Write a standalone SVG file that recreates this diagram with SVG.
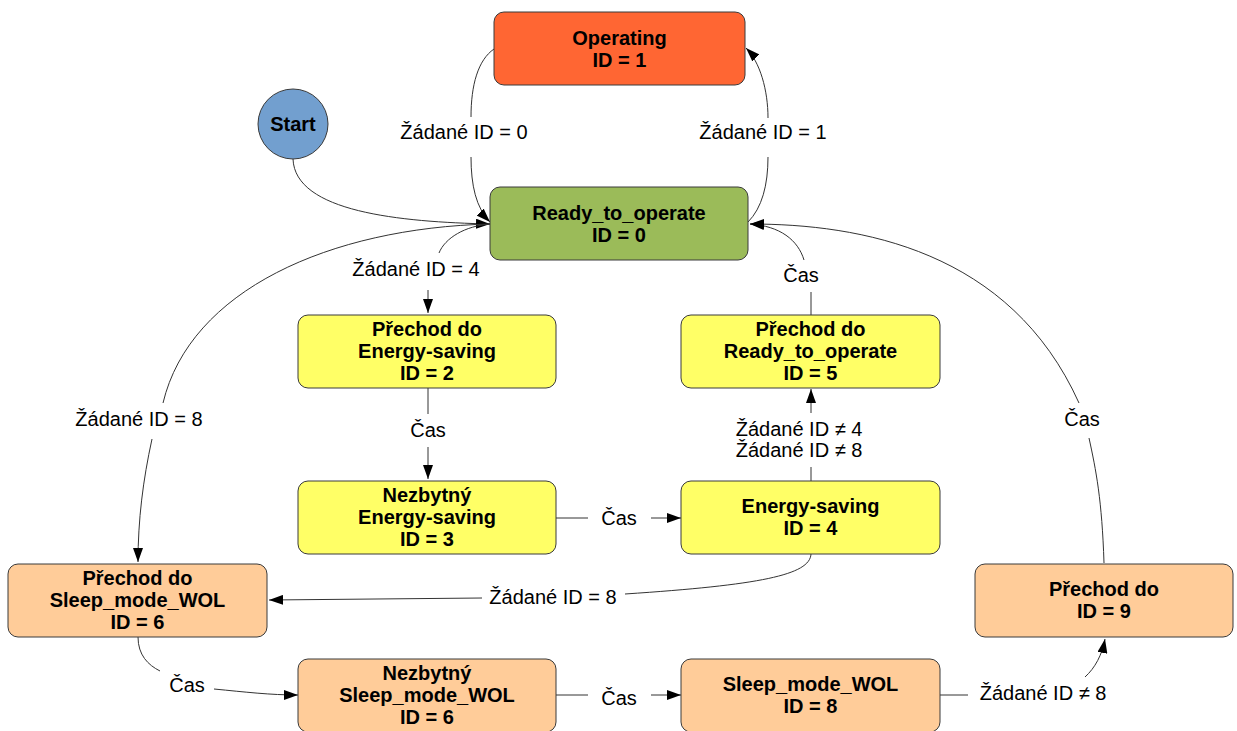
<svg xmlns="http://www.w3.org/2000/svg" width="1237" height="731" viewBox="0 0 1237 731">
  <style>
    .node rect, .node circle { stroke: #3a3a3a; stroke-width: 1; }
    .node text { font-family: "Liberation Sans", Arial, sans-serif; font-size: 20px; font-weight: bold; fill: #000; text-anchor: middle; }
    .edges path { fill: none; stroke: #333; stroke-width: 1; }
    .lbl { font-family: "Liberation Sans", Arial, sans-serif; font-size: 20px; fill: #000; text-anchor: middle; }
    .red { fill: #ff6633; }
    .green { fill: #9bbb59; }
    .yellow { fill: #ffff66; }
    .orange { fill: #ffcc99; }
    .blue { fill: #729fcf; }
  </style>
  <defs>
    <marker id="arrow" viewBox="0 0 14 10" refX="14" refY="5" markerWidth="14" markerHeight="10" markerUnits="userSpaceOnUse" orient="auto">
      <path d="M0,0 L14,5 L0,10 Z" fill="#000"/>
    </marker>
  </defs>
  <rect width="1237" height="731" fill="#fff"/>

  <!-- transitions -->
  <g class="edges">
    <!-- Operating -> Ready_to_operate -->
    <path d="M494,49 C478,60 471,85 471,117"/>
    <path d="M471,157 C471,185 476,208 490,222" marker-end="url(#arrow)"/>
    <!-- Ready_to_operate -> Operating -->
    <path d="M748,222 C762,208 768,185 768,157"/>
    <path d="M768,118 C768,90 760,62 746,48" marker-end="url(#arrow)"/>
    <!-- Start -> Ready_to_operate -->
    <path d="M293,159 C295,212 400,222 490,224" marker-end="url(#arrow)"/>
    <!-- Ready_to_operate -> Prechod Energy-saving -->
    <path d="M490,224 C465,226 445,238 439,253"/>
    <path d="M428,290 L428,313" marker-end="url(#arrow)"/>
    <!-- Ready_to_operate -> Prechod Sleep_mode_WOL -->
    <path d="M490,224 C330,228 190,290 163,403"/>
    <path d="M152,439 C143,480 138,520 138,562" marker-end="url(#arrow)"/>
    <!-- ID 2 -> ID 3 -->
    <path d="M428,388 L428,414"/>
    <path d="M428,447 L428,479" marker-end="url(#arrow)"/>
    <!-- ID 3 -> ID 4 -->
    <path d="M556,518 L588,518"/>
    <path d="M651,518 L681,518" marker-end="url(#arrow)"/>
    <!-- ID 4 -> ID 5 -->
    <path d="M811,481 L811,467"/>
    <path d="M811,413 L811,389" marker-end="url(#arrow)"/>
    <!-- ID 5 -> Ready_to_operate -->
    <path d="M811,315 L811,292"/>
    <path d="M804,260 C798,240 780,226 750,224" marker-end="url(#arrow)"/>
    <!-- ID 9 -> Ready_to_operate -->
    <path d="M1104,563 C1102,500 1096,470 1089,438"/>
    <path d="M1079,403 C1010,250 860,224 750,224" marker-end="url(#arrow)"/>
    <!-- ID 4 -> Prechod Sleep_mode_WOL -->
    <path d="M811,554 C810,575 760,585 625,594"/>
    <path d="M482,598 L269,600" marker-end="url(#arrow)"/>
    <!-- Prechod Sleep_mode_WOL -> Nezbytny Sleep_mode_WOL -->
    <path d="M138,637 C138,655 148,665 160,671"/>
    <path d="M214,689 C245,692 270,695 298,695" marker-end="url(#arrow)"/>
    <!-- Nezbytny Sleep_mode_WOL -> ID 8 -->
    <path d="M556,695 L588,695"/>
    <path d="M651,695 L681,695" marker-end="url(#arrow)"/>
    <!-- ID 8 -> Prechod ID 9 -->
    <path d="M940,695 L968,695"/>
    <path d="M1085,677 C1095,668 1102,655 1105,639" marker-end="url(#arrow)"/>
  </g>

  <!-- transition labels -->
  <g id="labels">
    <text class="lbl" x="464" y="139">Žádané ID = 0</text>
    <text class="lbl" x="763" y="139">Žádané ID = 1</text>
    <text class="lbl" x="416" y="276">Žádané ID = 4</text>
    <text class="lbl" x="139" y="426">Žádané ID = 8</text>
    <text class="lbl" x="428" y="437">Čas</text>
    <text class="lbl" x="619" y="525">Čas</text>
    <text class="lbl" x="799" y="436">Žádané ID ≠ 4</text>
    <text class="lbl" x="799" y="457">Žádané ID ≠ 8</text>
    <text class="lbl" x="801" y="282">Čas</text>
    <text class="lbl" x="1082" y="426">Čas</text>
    <text class="lbl" x="553" y="604">Žádané ID = 8</text>
    <text class="lbl" x="187" y="692">Čas</text>
    <text class="lbl" x="619" y="705">Čas</text>
    <text class="lbl" x="1043" y="700">Žádané ID ≠ 8</text>
  </g>

  <!-- states -->
  <g id="start" class="node">
    <circle class="blue" cx="293" cy="124" r="35"/>
    <text x="293" y="131">Start</text>
  </g>
  <g id="operating" class="node">
    <rect class="red" x="494" y="12" width="251" height="73" rx="10"/>
    <text x="619.5" y="45">Operating</text>
    <text x="619.5" y="67">ID = 1</text>
  </g>
  <g id="ready" class="node">
    <rect class="green" x="490" y="187" width="258" height="73" rx="10"/>
    <text x="619" y="220">Ready_to_operate</text>
    <text x="619" y="242">ID = 0</text>
  </g>
  <g id="id2" class="node">
    <rect class="yellow" x="298" y="315" width="258" height="73" rx="10"/>
    <text x="427" y="336">Přechod do</text>
    <text x="427" y="358">Energy-saving</text>
    <text x="427" y="380">ID = 2</text>
  </g>
  <g id="id3" class="node">
    <rect class="yellow" x="298" y="481" width="258" height="73" rx="10"/>
    <text x="427" y="502">Nezbytný</text>
    <text x="427" y="524">Energy-saving</text>
    <text x="427" y="546">ID = 3</text>
  </g>
  <g id="id5" class="node">
    <rect class="yellow" x="681" y="315" width="259" height="73" rx="10"/>
    <text x="810.5" y="336">Přechod do</text>
    <text x="810.5" y="358">Ready_to_operate</text>
    <text x="810.5" y="380">ID = 5</text>
  </g>
  <g id="id4" class="node">
    <rect class="yellow" x="681" y="481" width="259" height="73" rx="10"/>
    <text x="810.5" y="513">Energy-saving</text>
    <text x="810.5" y="535">ID = 4</text>
  </g>
  <g id="id6a" class="node">
    <rect class="orange" x="8" y="564" width="259" height="73" rx="10"/>
    <text x="137.5" y="585">Přechod do</text>
    <text x="137.5" y="607">Sleep_mode_WOL</text>
    <text x="137.5" y="629">ID = 6</text>
  </g>
  <g id="id6b" class="node">
    <rect class="orange" x="298" y="659" width="258" height="73" rx="10"/>
    <text x="427" y="680">Nezbytný</text>
    <text x="427" y="702">Sleep_mode_WOL</text>
    <text x="427" y="724">ID = 6</text>
  </g>
  <g id="id8" class="node">
    <rect class="orange" x="681" y="659" width="259" height="73" rx="10"/>
    <text x="810.5" y="691">Sleep_mode_WOL</text>
    <text x="810.5" y="713">ID = 8</text>
  </g>
  <g id="id9" class="node">
    <rect class="orange" x="975" y="564" width="258" height="73" rx="10"/>
    <text x="1104" y="596">Přechod do</text>
    <text x="1104" y="618">ID = 9</text>
  </g>
</svg>
